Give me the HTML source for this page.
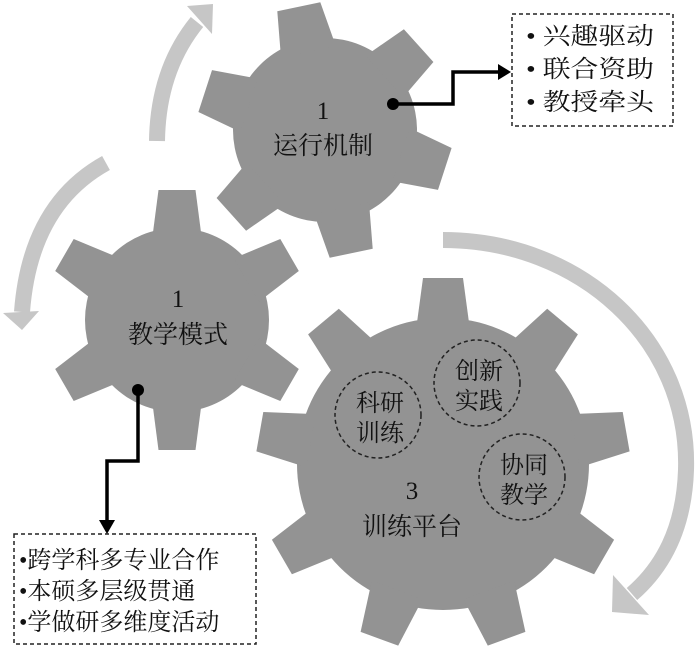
<!DOCTYPE html>
<html><head><meta charset="utf-8">
<style>
html,body{margin:0;padding:0;background:#fff;}
svg{display:block;}
text{font-family:"Liberation Serif","Noto Serif CJK SC","Noto Sans CJK SC",serif;fill:#111;}
</style></head>
<body>
<svg id="s" width="700" height="650" viewBox="0 0 700 650" xmlns="http://www.w3.org/2000/svg">
<g id="gears" fill="#939393"></g>
<g fill="none" stroke="#c6c6c6" stroke-width="16">
<path d="M443 240 C580 240 690 340 686 470 C684 530 662 568 632 594"/>
<path d="M157 141 Q158 70 197 22"/>
<path d="M106 163 Q30 205 22 312"/>
</g>
<g fill="#c6c6c6">
<polygon points="613,575 612,612 649,615"/>
<polygon points="187,6 213,4 212,34"/>
<polygon points="3,313 39,311 22,330"/>
</g>
<g fill="none" stroke="#222" stroke-width="1.5" stroke-dasharray="4,3">
<circle cx="378" cy="415" r="43"/>
<circle cx="477" cy="383" r="43"/>
<circle cx="522" cy="477" r="43"/>
<rect x="512" y="14" width="161" height="112"/>
<rect x="14" y="534" width="242" height="110"/>
</g>
<g fill="none" stroke="#000" stroke-width="3.5">
<polyline points="393,104 453,104 453,72 500,72"/>
<polyline points="138,390 138,461 107,461 107,522"/>
</g>
<circle cx="393" cy="104" r="6"/>
<circle cx="138" cy="390" r="6"/>
<polygon points="498,64 511,72 498,80"/>
<polygon points="99,520 107,534 115,520"/>
<g font-size="25" text-anchor="middle">
<text x="323" y="119">1</text>
<text x="323" y="154">运行机制</text>
<text x="178" y="307">1</text>
<text x="178" y="343">教学模式</text>
<text x="412" y="499">3</text>
<text x="412" y="535">训练平台</text>
</g>
<g font-size="24" text-anchor="middle">
<text x="380" y="411">科研</text>
<text x="380" y="441">训练</text>
<text x="479" y="379">创新</text>
<text x="479" y="409">实践</text>
<text x="524" y="473">协同</text>
<text x="524" y="503">教学</text>
</g>
<g font-size="24">
<text x="526" y="44" textLength="128" lengthAdjust="spacingAndGlyphs">• 兴趣驱动</text>
<text x="526" y="77" textLength="128" lengthAdjust="spacingAndGlyphs">• 联合资助</text>
<text x="526" y="110" textLength="128" lengthAdjust="spacingAndGlyphs">• 教授牵头</text>
<text x="19" y="568">•跨学科多专业合作</text>
<text x="19" y="599">•本硕多层级贯通</text>
<text x="19" y="630">•学做研多维度活动</text>
</g>
</svg>
<script>
function gear(cx,cy,rb,rt,n,off,wb,wt){
  var g=document.getElementById('gears'), NS='http://www.w3.org/2000/svg';
  var c0=document.createElementNS(NS,'circle');
  c0.setAttribute('cx',cx);c0.setAttribute('cy',cy);c0.setAttribute('r',rb);
  g.appendChild(c0);
  for(var i=0;i<n;i++){
    var a=(off+i*360/n)*Math.PI/180, c=Math.cos(a), s=Math.sin(a), px=-s, py=c;
    var r0=rb-12;
    var pts=[[r0,-wb/2],[r0,wb/2],[rt,wt/2],[rt,-wt/2]].map(function(p){
      return (cx+c*p[0]+px*p[1]).toFixed(1)+','+(cy+s*p[0]+py*p[1]).toFixed(1);});
    var p=document.createElementNS(NS,'polygon');
    p.setAttribute('points',pts.join(' '));
    g.appendChild(p);
  }
}
gear(325,130,92,126,6,-102,56,44);
gear(177,320,92,130,6,-90,50,37);
gear(443,464,146,186,9,-90,54,40);
</script>
</body></html>
